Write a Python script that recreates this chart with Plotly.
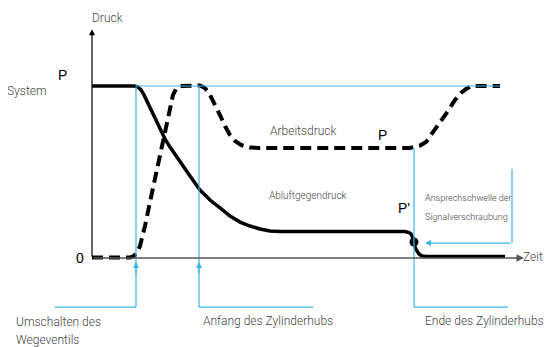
import plotly.graph_objects as go

# time in arbitrary units, pressure relative to system pressure P (=1)
t_exhaust = [0, 42, 46, 49, 52, 55, 58, 63, 68, 73, 78, 83, 88, 98, 108, 118, 128, 138, 148, 158,
             168, 178, 188, 313, 317, 319, 321, 322, 323, 325, 327, 330, 334, 413]
p_exhaust = [1.0, 1.0, 0.994, 0.977, 0.948, 0.913, 0.872, 0.814, 0.750, 0.692, 0.645, 0.605, 0.564,
             0.477, 0.395, 0.337, 0.291, 0.244, 0.209, 0.186, 0.169, 0.157, 0.154, 0.154, 0.148,
             0.140, 0.116, 0.093, 0.064, 0.041, 0.023, 0.012, 0.009, 0.009]

t_work = [0, 38, 42, 45, 48, 53, 58, 63, 68, 72, 75, 78, 81, 84, 88, 108, 113, 118, 123, 128, 133,
          138, 143, 149, 158, 168, 318, 323, 328, 334, 340, 348, 356, 363, 369, 374, 380, 408]
p_work = [0.003, 0.003, 0.012, 0.029, 0.070, 0.186, 0.326, 0.465, 0.599, 0.703, 0.802, 0.890, 0.948,
          0.983, 1.0, 1.003, 0.988, 0.948, 0.895, 0.831, 0.767, 0.715, 0.680, 0.657, 0.642, 0.640,
          0.640, 0.645, 0.654, 0.674, 0.721, 0.785, 0.855, 0.919, 0.959, 0.983, 1.0, 1.0]

P_SYS = 1.0
P_WORK = 0.64
P_THRESHOLD = 0.087
t_switch, t_start, t_end = 44, 107, 322

BLUE = "#3ab4e6"
FONT = "Roboto, Liberation Sans, sans-serif"
LABEL = dict(family=FONT, size=12, color="#444", weight=300)
BOLDISH = dict(family="Liberation Sans, Arial", size=14, color="black")

fig = go.Figure()
fig.add_trace(go.Scatter(x=t_work, y=p_work, mode="lines",
                         line=dict(color="black", width=4, dash="11px,6px")))
fig.add_trace(go.Scatter(x=t_exhaust, y=p_exhaust, mode="lines",
                         line=dict(color="black", width=3.5)))
fig.add_trace(go.Scatter(x=[t_end], y=[0.093], mode="markers",
                         marker=dict(color="black", size=9)))

base = -0.285
blue_lines = [
    (t_switch, P_SYS, 408, P_SYS),
    (t_switch, base, t_switch, P_SYS),
    (t_start, base, t_start, P_SYS),
    (t_end, base, t_end, P_WORK),
    (-37, base, t_switch, base),
    (t_start, base, 221, base),
    (t_end, base, 416, base),
    (420, 0.517, 420, P_THRESHOLD),
]
for x0, y0, x1, y1 in blue_lines:
    fig.add_shape(type="line", x0=x0, y0=y0, x1=x1, y1=y1, line=dict(color=BLUE, width=1.2))

anns = []
# axes with arrowheads
anns.append(dict(x=0, y=1.33, ax=0, ay=0, xref="x", yref="y", axref="x", ayref="y",
                 showarrow=True, arrowhead=2, arrowsize=1, arrowwidth=1.2, arrowcolor="black", text=""))
anns.append(dict(x=432, y=0, ax=0, ay=0, xref="x", yref="y", axref="x", ayref="y",
                 showarrow=True, arrowhead=2, arrowsize=1, arrowwidth=1.5, arrowcolor="#555", text=""))
# blue arrowheads
for tx in (t_switch, t_start):
    anns.append(dict(x=tx, y=-0.023, ax=tx, ay=-0.1, xref="x", yref="y", axref="x", ayref="y",
                     showarrow=True, arrowhead=2, arrowsize=1, arrowwidth=1.2, arrowcolor=BLUE, text=""))
anns.append(dict(x=333, y=P_THRESHOLD, ax=420, ay=P_THRESHOLD, xref="x", yref="y", axref="x", ayref="y",
                 showarrow=True, arrowhead=2, arrowsize=1, arrowwidth=1.2, arrowcolor=BLUE, text=""))

texts = [
    ("Druck", 15, 1.395, "center", LABEL),
    ("System", -65, 0.971, "center", LABEL),
    ("Zeit", 453, 0.006, "right", LABEL),
    ("Arbeitsdruck", 211, 0.738, "center", dict(LABEL, size=12)),
    ("Abluftgegendruck", 216, 0.366, "center", dict(LABEL, size=10)),
    ("Ansprechschwelle der", 331, 0.349, "left", dict(LABEL, size=9)),
    ("Signalverschraubung", 331, 0.238, "left", dict(LABEL, size=9)),
    ("Umschalten des", -78, -0.372, "left", LABEL),
    ("Wegeventils", -78, -0.477, "left", LABEL),
    ("Anfang des Zylinderhubs", 109, -0.366, "left", LABEL),
    ("Ende des Zylinderhubs", 331, -0.366, "left", LABEL),
    ("P", -30, 1.064, "center", BOLDISH),
    ("0", -12, 0.0, "center", BOLDISH),
    ("P", 290, 0.715, "center", BOLDISH),
    ("P'", 312, 0.291, "center", BOLDISH),
]
for txt, x, y, anchor, font in texts:
    anns.append(dict(text=txt, x=x, y=y, xref="x", yref="y", xanchor=anchor, yanchor="middle",
                     showarrow=False, font=font))

# page body has an 8px margin, so the figure is shrunk by that much
fig.update_layout(
    width=546, height=339,
    margin=dict(l=0, r=0, t=0, b=0),
    plot_bgcolor="white", paper_bgcolor="white",
    showlegend=False,
    xaxis=dict(range=[-84, 462], visible=False),
    yaxis=dict(range=[-0.5174, 1.4535], visible=False),
    annotations=anns,
)

fig.write_html("out.html")
